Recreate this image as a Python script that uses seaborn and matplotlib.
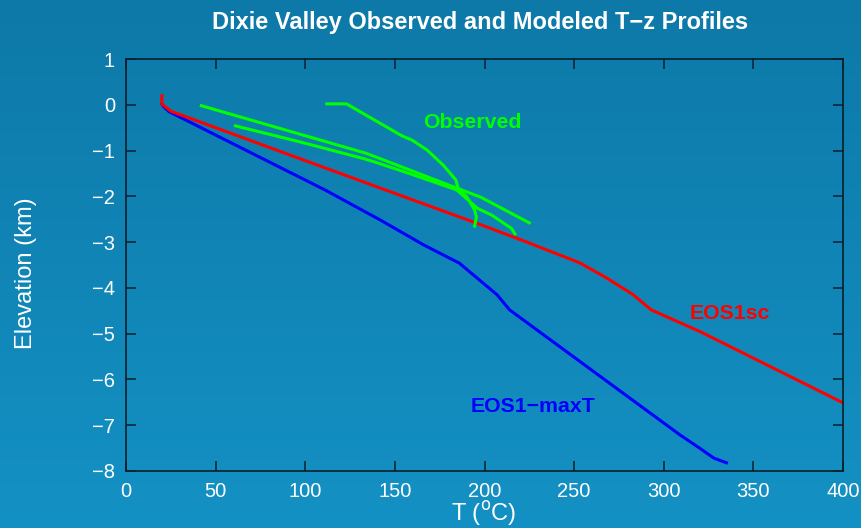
import numpy as np
import pandas as pd
import matplotlib
matplotlib.use("Agg")
import matplotlib.pyplot as plt
import seaborn as sns

# Modeled profiles: temperature (deg C) vs elevation (km)
eos1sc_T = [20, 20, 25, 100, 200, 225, 253, 268, 283, 293, 320, 400]
eos1sc_z = [0.2, 0.02, -0.14, -1.22, -2.65, -3.02, -3.45, -3.78, -4.15, -4.48, -4.95, -6.51]

eos1_maxT_T = [20, 21, 24, 111, 142, 166, 186, 207, 214, 309, 320, 328, 335]
eos1_maxT_z = [0.02, -0.04, -0.15, -1.86, -2.52, -3.06, -3.46, -4.15, -4.48, -7.21, -7.50, -7.72, -7.82]

# Observed well profiles
well_a_T = [42, 134, 158, 184.5, 198, 225]
well_a_z = [-0.02, -1.06, -1.42, -1.82, -2.02, -2.58]

well_b_T = [61, 97, 117.5, 132, 138, 158, 184.5, 196, 204, 215, 217]
well_b_z = [-0.46, -0.81, -1.02, -1.17, -1.24, -1.50, -1.86, -2.26, -2.41, -2.70, -2.82]

well_c_T = [112, 123, 154, 159.5, 168, 177, 184, 185.5, 190, 194.5, 195.5, 194.5]
well_c_z = [0.02, 0.02, -0.68, -0.77, -0.99, -1.32, -1.64, -1.86, -2.0, -2.30, -2.45, -2.65]

x_ticks = [0, 50, 100, 150, 200, 250, 300, 350, 400]
y_ticks = [1, 0, -1, -2, -3, -4, -5, -6, -7, -8]

W, H = 861, 528
fig = plt.figure(figsize=(W / 100, H / 100), dpi=100)

# Vertical blue gradient behind everything
bg = fig.add_axes([0, 0, 1, 1], zorder=-10)
grad = np.linspace(0, 1, 256).reshape(-1, 1)
top = np.array([13, 121, 168]) / 255
bot = np.array([20, 145, 196]) / 255
img = top + (bot - top) * grad[:, :, None]
bg.imshow(img, aspect="auto", extent=[0, 1, 0, 1])
bg.set_axis_off()

ax = fig.add_axes([126 / W, 1 - 471 / H, 717 / W, 412 / H])
ax.patch.set_alpha(0)

frame = "#0a1f2c"
lw = 2.2

def draw(T, z, color):
    df = pd.DataFrame({"T": T, "z": z})
    sns.lineplot(data=df, x="T", y="z", sort=False, estimator=None,
                 color=color, linewidth=lw, ax=ax)

draw(eos1_maxT_T, eos1_maxT_z, "#0000ff")
draw(eos1sc_T, eos1sc_z, "#ff0000")
draw(well_a_T, well_a_z, "#00ff00")
draw(well_b_T, well_b_z, "#00ff00")
draw(well_c_T, well_c_z, "#00ff00")

ax.set_xlim(0, 400)
ax.set_ylim(-8, 1)
ax.set_xticks(x_ticks)
ax.set_yticks(y_ticks)
ax.set_xticklabels([str(v) for v in x_ticks])
ax.set_yticklabels([str(v).replace("-", "\u2212") for v in y_ticks])
ax.set_xlabel("")
ax.set_ylabel("")

for s in ax.spines.values():
    s.set_color(frame)
    s.set_linewidth(1.2)
ax.tick_params(direction="in", length=7, width=1.1, color=frame,
               top=True, right=True, labelcolor="white", labelsize=14.5, pad=8)

txt_font = "Liberation Sans"
for lab in ax.get_xticklabels() + ax.get_yticklabels():
    lab.set_family(txt_font)

fig.text(484 / W, 1 - 514 / H, "T ($^{\\mathrm{o}}$C)", color="white", fontsize=17,
         family=txt_font, ha="center", va="center")
fig.text(26 / W, 1 - 273 / H, "Elevation (km)", color="white", fontsize=17,
         family=txt_font, ha="center", va="center", rotation=90)

fig.text(480 / W, 1 - 22 / H, "Dixie Valley Observed and Modeled T\u2212z Profiles",
         color="white", fontsize=17, fontweight="bold", family=txt_font,
         ha="center", va="center")

ax.text(193, -0.38, "Observed", color="#00ff00", fontsize=15.3, fontweight="bold",
        family=txt_font, ha="center", va="center")
ax.text(337, -4.55, "EOS1sc", color="#ff0000", fontsize=15.3, fontweight="bold",
        family=txt_font, ha="center", va="center")
ax.text(227, -6.6, "EOS1\u2212maxT", color="#0000ff", fontsize=15.3, fontweight="bold",
        family=txt_font, ha="center", va="center")

fig.savefig("out.png", dpi=100)
